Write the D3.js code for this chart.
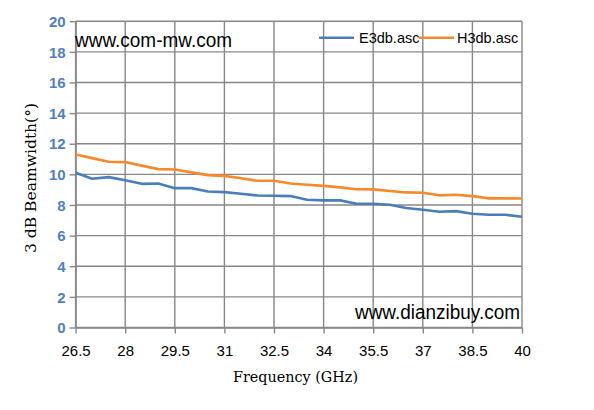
<!DOCTYPE html>
<html>
<head>
<meta charset="utf-8">
<script src="https://cdn.jsdelivr.net/npm/d3@7"></script>
<style>
html,body{margin:0;padding:0;background:#fff;}
svg{display:block;}
</style>
</head>
<body>
<svg id="chart" width="594" height="410"></svg>
<script>
const freqs = [26.5,27,27.5,28,28.5,29,29.5,30,30.5,31,31.5,32,32.5,33,33.5,34,34.5,35,35.5,36,36.5,37,37.5,38,38.5,39,39.5,40];
const e3db = [10.1,9.71,9.82,9.62,9.38,9.4,9.1,9.1,8.88,8.84,8.73,8.62,8.6,8.58,8.34,8.3,8.3,8.08,8.08,8.02,7.8,7.69,7.56,7.6,7.43,7.36,7.36,7.23];
const h3db = [11.3,11.06,10.82,10.8,10.57,10.34,10.32,10.13,9.95,9.9,9.74,9.58,9.58,9.4,9.32,9.25,9.15,9.03,9.02,8.91,8.82,8.8,8.63,8.67,8.58,8.43,8.43,8.42];
const xTicks = [26.5,28,29.5,31,32.5,34,35.5,37,38.5,40];
const yTicks = [0,2,4,6,8,10,12,14,16,18,20];
const seriesNames = ["E3db.asc","H3db.asc"];
const colors = ["#4a7ebb","#f7892c"];

const svg = d3.select("#chart");
const L = 75.6, R = 522, T = 21.2, B = 327.5;
const x = d3.scaleLinear().domain([26.5,40]).range([L,R]);
const y = d3.scaleLinear().domain([0,20]).range([B,T]);
const grid = "#878787";

// gridlines
svg.append("g").selectAll("line.h").data(yTicks).join("line")
  .attr("x1",L).attr("x2",R).attr("y1",d=>y(d)).attr("y2",d=>y(d))
  .attr("stroke",grid).attr("stroke-width",1.4);
svg.append("g").selectAll("line.v").data(xTicks).join("line")
  .attr("x1",d=>x(d)).attr("x2",d=>x(d)).attr("y1",T).attr("y2",B)
  .attr("stroke",grid).attr("stroke-width",1.4);

// axes
const xAxis = svg.append("g").attr("transform",`translate(0,${B})`)
  .call(d3.axisBottom(x).tickValues(xTicks).tickFormat(d=>d).tickSize(6).tickSizeOuter(0));
xAxis.select(".domain").attr("stroke",grid).attr("stroke-width",1.4);
xAxis.selectAll(".tick line").attr("stroke",grid).attr("stroke-width",1.4);
xAxis.selectAll("text").attr("fill","#000").attr("font-family","Liberation Sans, Arial, sans-serif")
  .attr("font-size",15).attr("dy","0").attr("y",28);

const yAxis = svg.append("g").attr("transform",`translate(${L},0)`)
  .call(d3.axisLeft(y).tickValues(yTicks).tickSize(6).tickSizeOuter(0));
yAxis.select(".domain").attr("stroke",grid).attr("stroke-width",1.4);
yAxis.selectAll(".tick line").attr("stroke",grid).attr("stroke-width",1.4);
yAxis.selectAll("text").attr("fill","#4f80c1").attr("font-family","Liberation Sans, Arial, sans-serif")
  .attr("font-size",15).attr("font-weight","bold").attr("x",-10).attr("dy","0.35em");

// lines
const line = d3.line().x((d,i)=>x(freqs[i])).y(d=>y(d));
[e3db,h3db].forEach((s,k)=>{
  svg.append("path").datum(s).attr("d",line).attr("fill","none")
    .attr("stroke",colors[k]).attr("stroke-width",2.6).attr("stroke-linejoin","round");
});

// legend
const legX = [319,419], legTX = [359,457];
seriesNames.forEach((n,k)=>{
  svg.append("line").attr("x1",legX[k]).attr("x2",legX[k]+35).attr("y1",37.7).attr("y2",37.7)
    .attr("stroke",colors[k]).attr("stroke-width",2.6);
  svg.append("text").attr("x",legTX[k]).attr("y",43).text(n)
    .attr("font-family","Liberation Sans, Arial, sans-serif").attr("font-size",14.5).attr("fill","#000");
});

// watermarks
svg.append("text").attr("x",75).attr("y",46.5).text("www.com-mw.com")
  .attr("textLength",157).attr("lengthAdjust","spacingAndGlyphs")
  .attr("font-family","Liberation Sans, Arial, sans-serif").attr("font-size",19.5).attr("fill","#000");
svg.append("text").attr("x",355).attr("y",318.5).text("www.dianzibuy.com")
  .attr("textLength",165).attr("lengthAdjust","spacingAndGlyphs")
  .attr("font-family","Liberation Sans, Arial, sans-serif").attr("font-size",19.5).attr("fill","#000");

// axis titles
svg.append("text").attr("x",233).attr("y",382).text("Frequency (GHz)")
  .attr("textLength",125).attr("lengthAdjust","spacingAndGlyphs")
  .attr("font-family","DejaVu Serif, serif").attr("font-size",15).attr("fill","#000");
svg.append("text").attr("transform","translate(36,178) rotate(-90)").attr("text-anchor","middle")
  .text("3 dB Beamwidth(°)")
  .attr("textLength",150).attr("lengthAdjust","spacingAndGlyphs")
  .attr("font-family","DejaVu Serif, serif").attr("font-size",15).attr("fill","#000");
</script>
</body>
</html>
